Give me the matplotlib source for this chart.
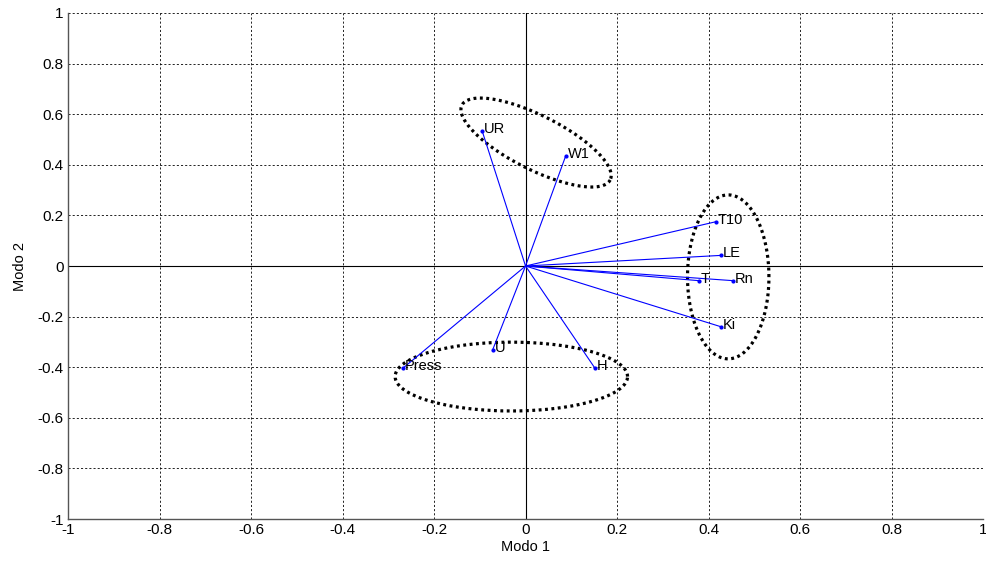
import numpy as np
import matplotlib
matplotlib.use("Agg")
import matplotlib.pyplot as plt

plt.rcParams['font.family'] = ['Liberation Sans', 'DejaVu Sans']

# variable loadings on the first two modes
labels = ["UR", "W1", "T10", "LE", "T", "Rn", "Ki", "H", "U", "Press"]
modo1 = [-0.095, 0.088, 0.416, 0.428, 0.379, 0.454, 0.427, 0.151, -0.072, -0.268]
modo2 = [0.535, 0.436, 0.175, 0.042, -0.058, -0.058, -0.240, -0.402, -0.332, -0.404]

# grouping ellipses: center, and two half-axis vectors (data units)
groups = [
    ((0.023, 0.488), (0.162, -0.148), (-0.027, -0.095)),
    ((0.443, -0.043), (0.089, 0.0), (0.0, 0.324)),
    ((-0.031, -0.437), (0.254, 0.0), (0.0, 0.136)),
]

ticks = np.round(np.arange(-1, 1.01, 0.2), 1) + 0.0

fig = plt.figure(figsize=(9.87, 5.65), dpi=100)
ax = fig.add_axes([0.0689, 0.0814, 0.9271, 0.8956])

ax.axhline(0, color="black", lw=0.8, zorder=1)
ax.axvline(0, color="black", lw=0.8, zorder=1)

for x, y, lab in zip(modo1, modo2, labels):
    ax.plot([0, x], [0, y], color="blue", lw=0.8, zorder=3)
    ax.plot(x, y, ".", color="blue", ms=4, zorder=4)
    ax.text(x + 0.004, y + 0.008, lab, fontsize=10.5, ha="left", va="center", zorder=5)

t = np.linspace(0, 2 * np.pi, 400)
for (cx, cy), (ax1, ay1), (bx, by) in groups:
    ex = cx + ax1 * np.cos(t) + bx * np.sin(t)
    ey = cy + ay1 * np.cos(t) + by * np.sin(t)
    ax.plot(ex, ey, color="black", lw=2.3, linestyle=(0, (0.9, 1.1)),
            dash_capstyle="butt", zorder=2)

ax.set_xlim(-1, 1)
ax.set_ylim(-1, 1)
ax.set_xticks(ticks)
ax.set_yticks(ticks)
ax.set_xticklabels([f"{v:g}" for v in ticks])
ax.set_yticklabels([f"{v:g}" for v in ticks])
ax.tick_params(length=0, labelsize=11, pad=3)
ax.grid(True, color="black", lw=0.6, linestyle=(0, (2.5, 2.5)))
ax.set_axisbelow(True)
for s in ["top", "right"]:
    ax.spines[s].set_visible(False)
for s in ["left", "bottom"]:
    ax.spines[s].set_color("#555555")
    ax.spines[s].set_linewidth(1.0)

ax.set_xlabel("Modo 1", fontsize=10.5, labelpad=2)
ax.set_ylabel("Modo 2", fontsize=10.5, labelpad=8)

fig.savefig("out.png", dpi=100)
